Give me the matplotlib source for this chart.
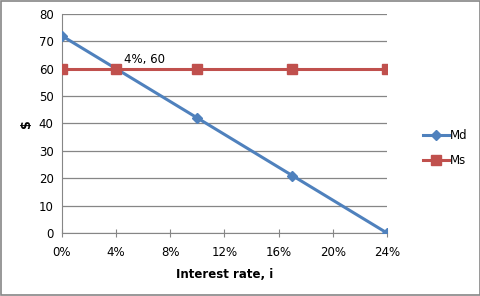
import matplotlib.pyplot as plt
from matplotlib.ticker import FuncFormatter
from matplotlib.patches import Rectangle

# Zinssatz (%) und Geldnachfrage / Geldangebot
zins = [0, 4, 10, 17, 24]
md = [72, 60, 42, 21, 0]
ms = [60, 60, 60, 60, 60]
x_ticks = [0, 4, 8, 12, 16, 20, 24]
y_ticks = [0, 10, 20, 30, 40, 50, 60, 70, 80]

fig = plt.figure(figsize=(4.81, 2.96), dpi=100)
ax = fig.add_axes([62 / 481, 63 / 296, 325 / 481, 219 / 296])

ax.plot(zins, md, color='#4F81BD', lw=2.2, marker='D', ms=5.5, label='Md', zorder=3)
ax.plot(zins, ms, color='#C0504D', lw=2.2, marker='s', ms=7, label='Ms', zorder=3)
ax.annotate('4%, 60', xy=(4, 60), xytext=(6, 4), textcoords='offset points',
            fontsize=8.5)

ax.set_xlim(0, 24)
ax.set_ylim(0, 80)
ax.set_xticks(x_ticks)
ax.set_yticks(y_ticks)
ax.xaxis.set_major_formatter(FuncFormatter(lambda v, p: f'{v:.0f}%'))
ax.grid(axis='y', color='#868686', lw=0.9)
ax.set_axisbelow(True)
for s in ['top', 'right']:
    ax.spines[s].set_visible(False)
for s in ['left', 'bottom']:
    ax.spines[s].set_color('#868686')
ax.tick_params(axis='y', length=0, labelsize=8.5, pad=6)
ax.tick_params(axis='x', direction='inout', length=6, color='#868686', labelsize=8.5, pad=6)
ax.set_xlabel('Interest rate, i', fontweight='bold', fontsize=8.5, labelpad=7)
ax.set_ylabel('$', fontweight='bold', fontsize=9, labelpad=4)

fig.legend(loc='center left', bbox_to_anchor=(412 / 481, 148 / 296), frameon=False,
           fontsize=8.5, handlelength=2.2, labelspacing=1.0, handletextpad=0.1)
fig.patches.append(Rectangle((0.002, 0.003), 0.995, 0.993, transform=fig.transFigure,
                             fill=False, edgecolor='#868686', lw=1.2))

fig.savefig('out.png', dpi=100)
